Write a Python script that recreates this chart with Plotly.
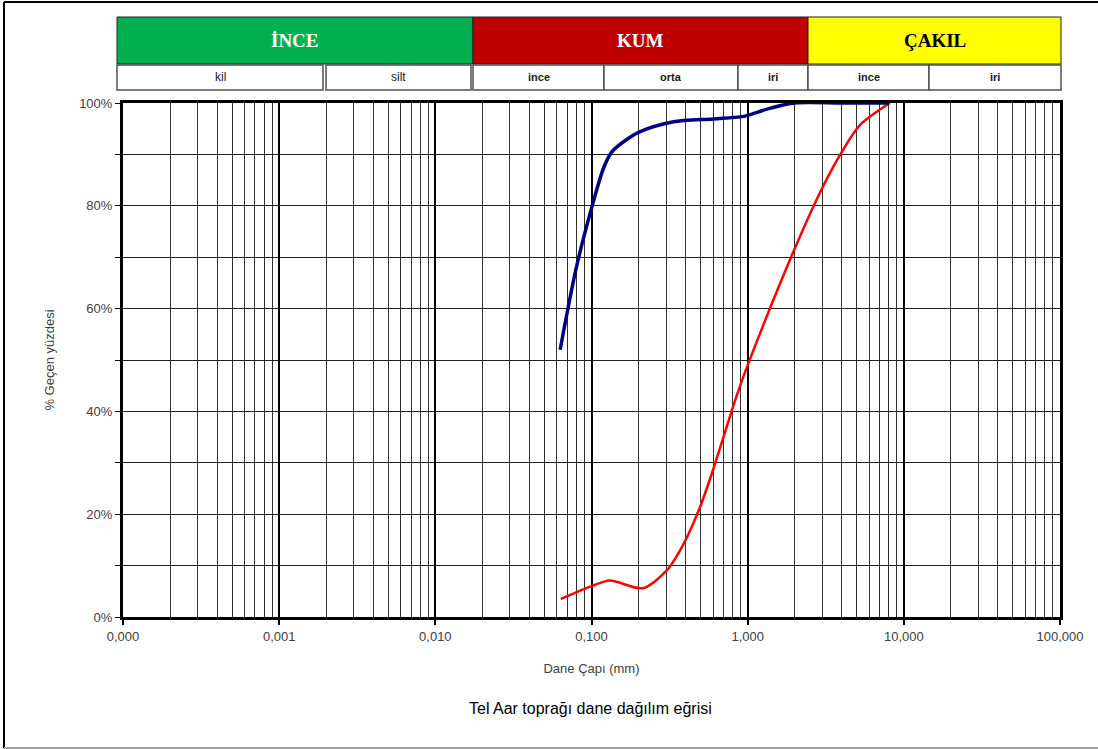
import plotly.graph_objects as go

# ---- data ----
blue_x = [0.063, 0.08, 0.1, 0.12, 0.135, 0.17, 0.2, 0.33, 0.6, 0.9, 1.0, 1.4, 2.0, 4.0, 8.0]
blue_y = [52.0, 68.0, 79.5, 87.5, 90.5, 93.0, 94.3, 96.3, 96.9, 97.3, 97.6, 99.0, 100.0, 100.0, 100.0]
red_x = [0.0636, 0.1, 0.131, 0.2134, 0.304, 0.36, 0.42, 0.5, 0.6, 0.7, 0.8, 0.9, 1.0, 1.946, 3.03, 4.01, 5.23, 8.13]
red_y = [3.5, 6.0, 7.1, 5.6, 9.1, 12.4, 16.3, 21.7, 28.6, 35.0, 40.6, 45.2, 49.0, 70.8, 83.7, 90.5, 95.7, 100.0]

x_tickvals = [0.0001, 0.001, 0.01, 0.1, 1, 10, 100]
x_ticktext = ["0,000", "0,001", "0,010", "0,100", "1,000", "10,000", "100,000"]
y_tickvals = [0, 20, 40, 60, 80, 100]
y_ticktext = ["0%", "20%", "40%", "60%", "80%", "100%"]

main_groups = ["İNCE", "KUM", "ÇAKIL"]
sub_groups = ["kil", "silt", "ince", "orta", "iri", "ince", "iri"]

W, H = 1098, 749
L, R, T, B = 123, 1060, 103, 617

def px(x):
    return (x - L) / (R - L)

def py(y):
    return (B - y) / (B - T)

minor_x = [m * 10 ** e for e in range(-4, 2) for m in range(2, 10)]

fig = go.Figure()
fig.add_trace(go.Scatter(x=red_x, y=red_y, mode="lines",
                         line=dict(color="#FF0000", width=2.5, shape="spline", smoothing=0.8),
                         showlegend=False, hoverinfo="skip"))
fig.add_trace(go.Scatter(x=blue_x, y=blue_y, mode="lines",
                         line=dict(color="#000080", width=3.5, shape="spline", smoothing=0.9),
                         showlegend=False, hoverinfo="skip"))

shapes = []
annotations = []

# header main row
main_boxes = [(117, 473, "#00B050", "white"), (473, 808, "#C00000", "white"), (808, 1061, "#FFFF00", "black")]
for (x0, x1, fc, tc), lab in zip(main_boxes, main_groups):
    shapes.append(dict(type="rect", xref="paper", yref="paper", x0=px(x0), x1=px(x1), y0=py(64), y1=py(17),
                       fillcolor=fc, line=dict(color="#202020", width=1), layer="above"))
    annotations.append(dict(x=px((x0 + x1) / 2), y=py(41), xref="paper", yref="paper", text="<b>%s</b>" % lab,
                            xanchor="center", yanchor="middle",
                            showarrow=False, font=dict(family="Liberation Serif", size=19, color=tc)))

sub_boxes = [(117, 323, False), (326, 471, False), (473, 604, True), (604, 738, True), (738, 808, True),
             (808, 929, True), (929, 1061, True)]
for (x0, x1, bold), lab in zip(sub_boxes, sub_groups):
    shapes.append(dict(type="rect", xref="paper", yref="paper", x0=px(x0), x1=px(x1), y0=py(90), y1=py(65),
                       fillcolor="white", line=dict(color="#505050", width=1.5), layer="above"))
    annotations.append(dict(x=px((x0 + x1) / 2), y=py(77.5), xref="paper", yref="paper",
                            text=("<b>%s</b>" % lab) if bold else lab,
                            xanchor="center", yanchor="middle",
                            showarrow=False, font=dict(family="Liberation Sans", size=12 if not bold else 11,
                                                       color="#202020")))

# outer frame
shapes.append(dict(type="line", xref="paper", yref="paper", x0=px(4), x1=px(4), y0=py(2), y1=py(748),
                   line=dict(color="black", width=2), layer="above"))
shapes.append(dict(type="line", xref="paper", yref="paper", x0=px(4), x1=px(1098), y0=py(2), y1=py(2),
                   line=dict(color="black", width=2), layer="above"))
shapes.append(dict(type="line", xref="paper", yref="paper", x0=px(4), x1=px(1098), y0=py(748), y1=py(748),
                   line=dict(color="#A0A0A0", width=2), layer="above"))

annotations.append(dict(x=px(590), y=py(708), xref="paper", yref="paper", text="Tel Aar toprağı dane dağılım eğrisi",
                        xanchor="center", yanchor="middle",
                        showarrow=False, font=dict(family="Liberation Sans", size=16, color="black")))

fig.update_layout(
    width=W, height=H,
    margin=dict(l=L, r=W - R, t=T, b=H - B, pad=0),
    paper_bgcolor="white", plot_bgcolor="white",
    shapes=shapes, annotations=annotations,
    showlegend=False,
    xaxis=dict(type="log", range=[-4, 2], tickvals=x_tickvals, ticktext=x_ticktext,
               showgrid=True, gridcolor="black", gridwidth=2,
               ticks="outside", ticklen=5, tickcolor="black", tickwidth=2,
               tickfont=dict(family="Liberation Sans", size=13, color="#404040"),
               showline=True, linecolor="black", linewidth=3, mirror=True,
               minor=dict(tickvals=minor_x, showgrid=True, gridcolor="#303030", gridwidth=1, ticks=""),
               title=dict(text="Dane Çapı (mm)", font=dict(family="Liberation Sans", size=13, color="#404040"),
                          standoff=22),
               zeroline=False, fixedrange=True),
    yaxis=dict(range=[0, 100], tickvals=y_tickvals, ticktext=y_ticktext,
               showgrid=True, gridcolor="#202020", gridwidth=1,
               ticks="outside", ticklen=5, tickcolor="black", tickwidth=1,
               tickfont=dict(family="Liberation Sans", size=13, color="#404040"),
               showline=True, linecolor="black", linewidth=3, mirror=True,
               minor=dict(dtick=10, showgrid=True, gridcolor="#202020", gridwidth=1, ticks="outside",
                          ticklen=5, tickcolor="black"),
               title=dict(text="% Geçen yüzdesi", font=dict(family="Liberation Sans", size=13, color="#404040"),
                          standoff=22),
               zeroline=False, fixedrange=True),
)

fig.write_html("out.html", post_script="document.body.style.margin='0';",
               config={"displayModeBar": False})
